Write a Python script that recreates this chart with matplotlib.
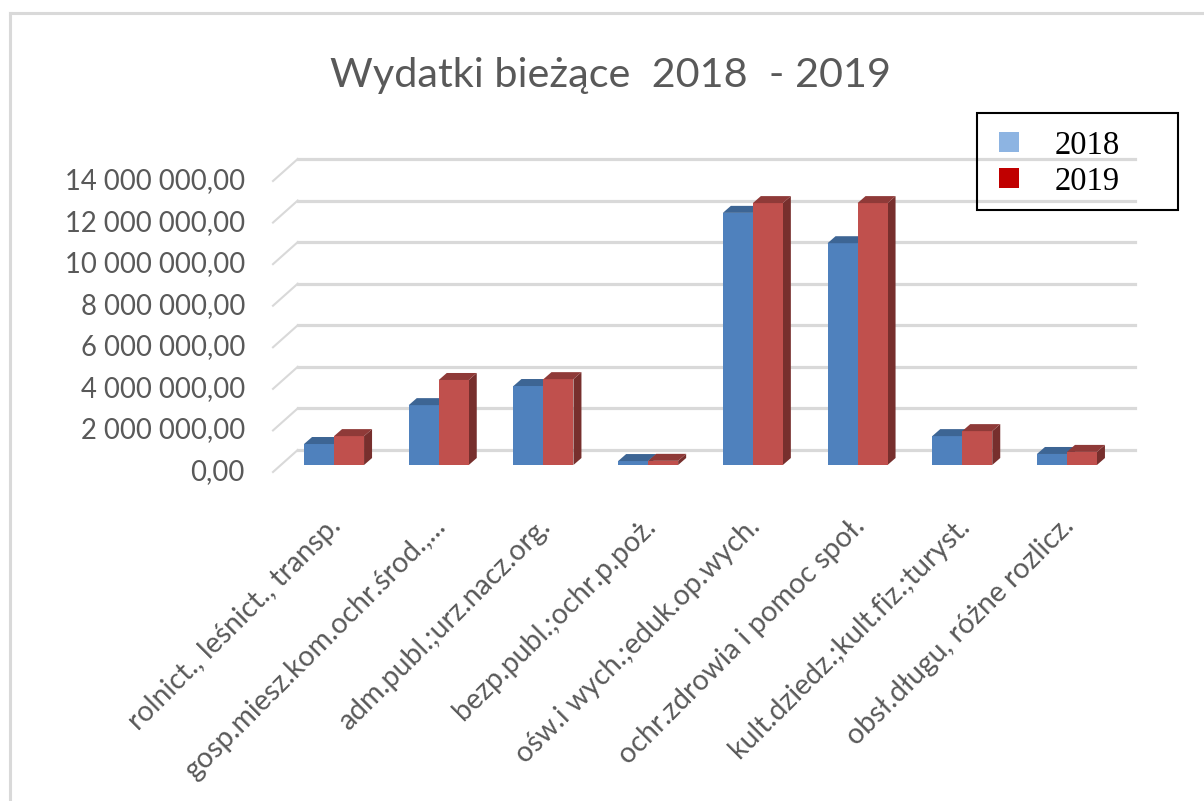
import matplotlib.pyplot as plt
import matplotlib.transforms as mtransforms
from matplotlib.patches import Polygon, Rectangle
from matplotlib.lines import Line2D
import numpy as np

# data
categories = ['rolnict., leśnict., transp.',
              'gosp.miesz.kom.ochr.środ.,...',
              'adm.publ.;urz.nacz.org.',
              'bezp.publ.;ochr.p.poż.',
              'ośw.i wych.;eduk.op.wych.',
              'ochr.zdrowia i pomoc społ.',
              'kult.dziedz.;kult.fiz.;turyst.',
              'obsł.długu, różne rozlicz.']
v2018 = [1010000, 2880000, 3800000, 190000, 12130000, 10670000, 1390000, 530000]
v2019 = [1390000, 4090000, 4130000, 200000, 12600000, 12600000, 1630000, 630000]
yticks = [0, 2000000, 4000000, 6000000, 8000000, 10000000, 12000000, 14000000]
series = ['2018', '2019']

W, H = 1204, 801
fig = plt.figure(figsize=(W / 100, H / 100), dpi=100)
left, right, bottom, top = 281.7, 1119.3, 465, 174
ax = fig.add_axes([left / W, 1 - bottom / H, (right - left) / W, (bottom - top) / H])
ax.set_xlim(-0.5, 7.5)
ax.set_ylim(0, 14000000)
ax.axis('off')

pxx = (right - left) / 8.0
pxy = (bottom - top) / 14000000.0
# 3d offsets (pixels): back wall, front edge, bar depth
back = (16 / pxx, 15 / pxy)
front = (-8.7 / pxx, -7 / pxy)
depth = (8 / pxx, 7 / pxy)

grid_c = '#d9d9d9'
for v in yticks:
    ax.plot([-0.5 + back[0], 7.5 + back[0]], [v + back[1], v + back[1]],
            color=grid_c, lw=2.3, clip_on=False, zorder=1)
    ax.plot([-0.5 + front[0], -0.5 + back[0]], [v + front[1], v + back[1]],
            color=grid_c, lw=1.5, clip_on=False, zorder=1)
    lab = f'{v:,.2f}'.replace(',', ' ').replace('.', ',')
    ax.text(-0.5 + front[0] - 28 / pxx, v + front[1], lab, ha='right', va='center',
            fontsize=19.8, color='#595959', family='Lato')

bw = 30 / pxx
x = np.arange(len(categories))
colors = [('#4f81bd', '#3d6594', '#2f4f75'), ('#c0504d', '#8f3a38', '#772f2d')]
for k, vals in enumerate([v2018, v2019]):
    fc, tc, sc = colors[k]
    xs = x - bw + k * bw
    ax.bar(xs, vals, width=bw, align='edge', color=fc, zorder=3 + 2 * k, clip_on=False)
    for xi, h in zip(xs, vals):
        topf = [(xi, h), (xi + bw, h), (xi + bw + depth[0], h + depth[1]), (xi + depth[0], h + depth[1])]
        side = [(xi + bw, 0), (xi + bw + depth[0], depth[1]), (xi + bw + depth[0], h + depth[1]), (xi + bw, h)]
        ax.add_patch(Polygon(topf, closed=True, color=tc, zorder=3 + 2 * k, clip_on=False, lw=0))
        ax.add_patch(Polygon(side, closed=True, color=sc, zorder=2 + 2 * k, clip_on=False, lw=0))

lab_tr = mtransforms.offset_copy(ax.transData, fig=fig, x=-6, y=-48, units='dots')
for i, c in enumerate(categories):
    ax.text(i, 0, c, transform=lab_tr, rotation=45, ha='right', va='top',
            rotation_mode='anchor', fontsize=20.5, color='#595959', family='Lato')

fig.text(611 / W, 1 - 76 / H, 'Wydatki bieżące  2018  - 2019', ha='center', va='center',
         fontsize=29.8, color='#595959', family='Lato')

# chart border (top and left edges visible)
fig.add_artist(Line2D([10 / W, 1], [1 - 13 / H, 1 - 13 / H], color=grid_c, lw=2.2))
fig.add_artist(Line2D([10 / W, 10 / W], [1 - 13 / H, 0], color=grid_c, lw=2.2))

# legend
fig.add_artist(Rectangle((977 / W, 1 - 210 / H), 201 / W, 97 / H, transform=fig.transFigure,
                         fill=False, edgecolor='black', lw=1.5))
handles = [Line2D([], [], marker='s', ls='', markersize=14.5, color=c, markeredgewidth=0)
           for c in ['#8db4e2', '#c00000']]
fig.legend(handles, series, loc='upper left', bbox_to_anchor=(993 / W, 1 - 130 / H),
           frameon=False, borderaxespad=0, borderpad=0, handlelength=0.95, handletextpad=0.95,
           labelspacing=0.18, prop={'family': 'Liberation Serif', 'size': 23.5})

fig.savefig('out.png', dpi=100)
plt.close()
